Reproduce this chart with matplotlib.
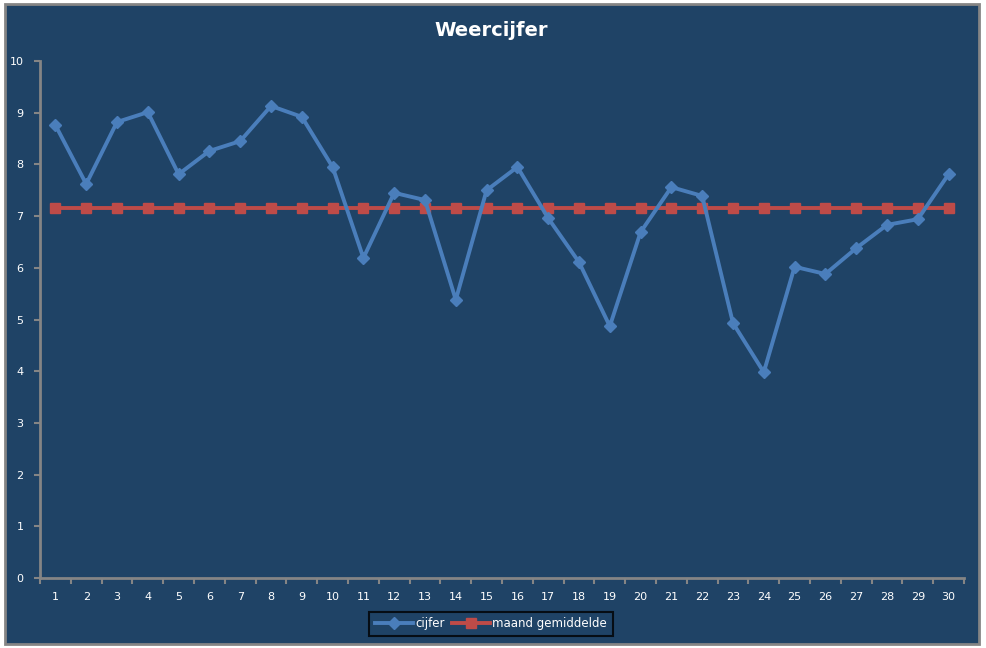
import numpy as np
import matplotlib.pyplot as plt
from matplotlib.patches import Rectangle

# ── Data ──────────────────────────────────────────────────────────────────
days = list(range(1, 31))
cijfer = [8.76, 7.62, 8.82, 9.01, 7.81, 8.26, 8.45, 9.13, 8.92, 7.95,
          6.19, 7.45, 7.31, 5.38, 7.50, 7.95, 6.96, 6.11, 4.87, 6.69,
          7.56, 7.39, 4.93, 3.98, 6.02, 5.88, 6.38, 6.83, 6.94, 7.81]
gemiddelde = [7.16] * 30

bg = "#1F4366"
blue = "#4A7EBB"
red = "#BE4B48"
axis_gray = "#858585"

fig = plt.figure(figsize=(9.87, 6.48), dpi=100, facecolor="white")

# chart area with grey frame (drawn behind the axes)
fig.patches.append(Rectangle((5 / 987, 4 / 648), 974 / 987, 640 / 648,
                             transform=fig.transFigure, facecolor=bg,
                             edgecolor=axis_gray, linewidth=2, zorder=-5))

ax = fig.add_axes([40 / 987, 70 / 648, 924 / 987, 517 / 648])
ax.set_zorder(2)
ax.set_facecolor(bg)

ax.plot(days, cijfer, color=blue, linewidth=2.8, marker="D", markersize=6,
        label="cijfer", zorder=3)
ax.plot(days, gemiddelde, color=red, linewidth=2.8, marker="s", markersize=7,
        label="maand gemiddelde", zorder=2)

ax.set_xlim(0.5, 30.5)
ax.set_ylim(0, 10)
ax.set_yticks(range(0, 11))
ax.set_xticks(days)
ax.set_xticks(np.arange(0.5, 31, 1), minor=True)

for side in ["top", "right"]:
    ax.spines[side].set_visible(False)
for side in ["left", "bottom"]:
    ax.spines[side].set_color(axis_gray)
    ax.spines[side].set_linewidth(2)

ax.tick_params(axis="y", colors=axis_gray, labelcolor="white", labelsize=8,
               length=4, width=1.5, pad=8)
ax.tick_params(axis="x", which="major", length=0, labelcolor="white",
               labelsize=8, pad=10)
ax.tick_params(axis="x", which="minor", colors=axis_gray, length=4, width=1.5)

fig.text(491 / 987, 1 - 31 / 648, "Weercijfer", color="white", fontsize=14,
         fontweight="bold", ha="center", va="center")

leg = fig.legend(*ax.get_legend_handles_labels(), loc="center",
                 bbox_to_anchor=(491 / 987, 1 - 624 / 648), ncol=2,
                 fontsize=8.5, frameon=True, facecolor=bg, edgecolor="black",
                 fancybox=False, handlelength=3.2, columnspacing=0.6,
                 handletextpad=0.2, borderpad=0.5)
leg.get_frame().set_linewidth(1.5)
for t in leg.get_texts():
    t.set_color("white")

fig.savefig("out.png", dpi=100, facecolor="white")
